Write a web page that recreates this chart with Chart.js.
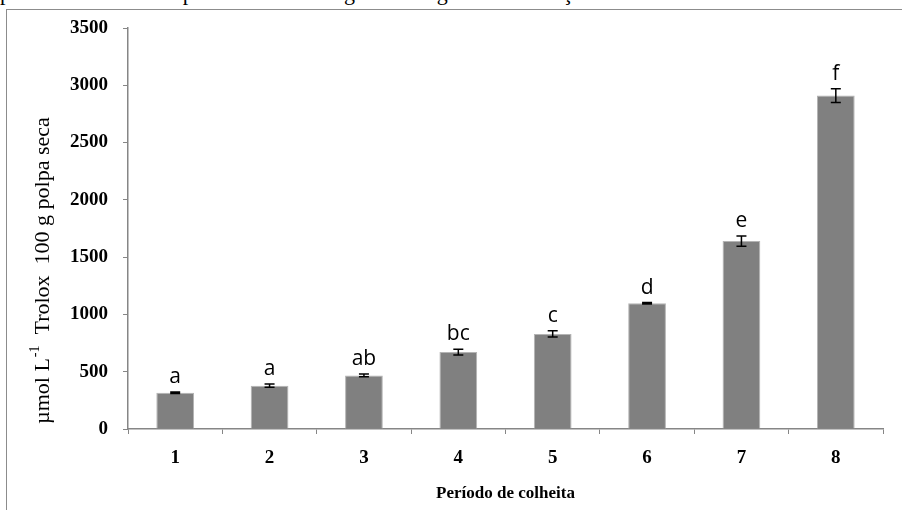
<!DOCTYPE html>
<html>
<head>
<meta charset="utf-8">
<script src="https://cdn.jsdelivr.net/npm/chart.js@4.4.1/dist/chart.umd.min.js"></script>
<style>
  html, body { margin: 0; padding: 0; background: #fff; }
  body { width: 902px; height: 510px; position: relative; overflow: hidden; }
  #caption {
    position: absolute; left: 0; top: -18px; white-space: nowrap;
    font: 22px/22px "Liberation Serif", "Times New Roman", serif; color: #000;
  }
  #frame {
    position: absolute; left: 6px; top: 9px; width: 920px; height: 520px;
    border-top: 1.5px solid #8c8c8c; border-left: 1.5px solid #8c8c8c;
  }
  #wrap { position: absolute; left: 0; top: 0; width: 902px; height: 510px; }
</style>
</head>
<body>
<div id="caption">períodos de colheita provenientes da região da Lagoa da Conceição</div>
<div id="frame"></div>
<div id="wrap"><canvas id="chart" width="902" height="510"></canvas></div>
<script>
  const periods = ['1', '2', '3', '4', '5', '6', '7', '8'];
  const trolox = [316, 378, 468, 671, 830, 1098, 1640, 2910];
  const errors = [6, 14, 12, 26, 28, 6, 44, 60];
  const letters = ['a', 'a', 'ab', 'bc', 'c', 'd', 'e', 'f'];
  const yTicks = [0, 500, 1000, 1500, 2000, 2500, 3000, 3500];

  const axisGrey = '#868686';

  // error bars, significance letters and the y title with superscript
  const extras = {
    id: 'extras',
    afterDatasetsDraw(chart) {
      const ctx = chart.ctx;
      const x = chart.scales.x, y = chart.scales.y;
      ctx.save();
      trolox.forEach((v, i) => {
        const cx = x.getPixelForValue(i);
        const top = y.getPixelForValue(v + errors[i]);
        const bot = y.getPixelForValue(v - errors[i]);
        ctx.strokeStyle = '#000';
        ctx.lineWidth = 1.5;
        ctx.beginPath();
        ctx.moveTo(cx, top); ctx.lineTo(cx, bot);
        ctx.moveTo(cx - 5, top); ctx.lineTo(cx + 5, top);
        ctx.moveTo(cx - 5, bot); ctx.lineTo(cx + 5, bot);
        ctx.stroke();

        ctx.fillStyle = '#000';
        ctx.font = '21px "Open Sans", sans-serif';
        ctx.textAlign = 'center';
        ctx.textBaseline = 'alphabetic';
        ctx.fillText(letters[i], cx, top - 9);
      });

      // y axis title, rotated
      ctx.translate(43, 424);
      ctx.rotate(-Math.PI / 2);
      ctx.textAlign = 'left';
      ctx.textBaseline = 'middle';
      ctx.font = '22px "Liberation Serif", serif';
      let px = 0;
      const part1 = 'µmol L';
      ctx.fillText(part1, px, 0);
      px += ctx.measureText(part1).width;
      ctx.font = '14px "Liberation Serif", serif';
      ctx.fillText('-1', px + 1, -8);
      px += ctx.measureText('-1').width + 1;
      ctx.font = '22px "Liberation Serif", serif';
      ctx.fillText('  Trolox  100 g polpa seca', px, 0);
      ctx.restore();
    }
  };

  new Chart(document.getElementById('chart'), {
    type: 'bar',
    data: {
      labels: periods,
      datasets: [{
        data: trolox,
        backgroundColor: '#808080',
        borderColor: '#b4b4b4',
        borderWidth: 1,
        categoryPercentage: 1,
        barPercentage: 0.4
      }]
    },
    options: {
      responsive: false,
      animation: false,
      layout: { padding: { left: 0, right: 19, top: 28, bottom: 0 } },
      plugins: {
        legend: { display: false },
        tooltip: { enabled: false }
      },
      scales: {
        x: {
          afterFit: s => { s.height = 81; },
          grid: {
            offset: true,
            drawOnChartArea: false,
            drawTicks: true,
            tickLength: 5,
            color: axisGrey
          },
          border: { color: axisGrey, width: 1.5 },
          ticks: {
            color: '#000',
            padding: 13,
            font: { family: '"Liberation Serif", serif', size: 19, weight: 'bold' }
          },
          title: {
            display: true,
            text: 'Período de colheita',
            color: '#000',
            padding: { top: 0, bottom: 6 },
            font: { family: '"Liberation Serif", serif', size: 17, weight: 'bold' }
          }
        },
        y: {
          min: 0,
          max: 3500,
          afterFit: s => { s.width = 128; },
          afterBuildTicks: s => { s.ticks = yTicks.map(v => ({ value: v })); },
          grid: {
            drawOnChartArea: false,
            drawTicks: true,
            tickLength: 5,
            color: axisGrey
          },
          border: { color: axisGrey, width: 1.5 },
          ticks: {
            color: '#000',
            padding: 15,
            callback: v => String(v),
            font: { family: '"Liberation Serif", serif', size: 19, weight: 'bold' }
          }
        }
      }
    },
    plugins: [extras]
  });
</script>
</body>
</html>
